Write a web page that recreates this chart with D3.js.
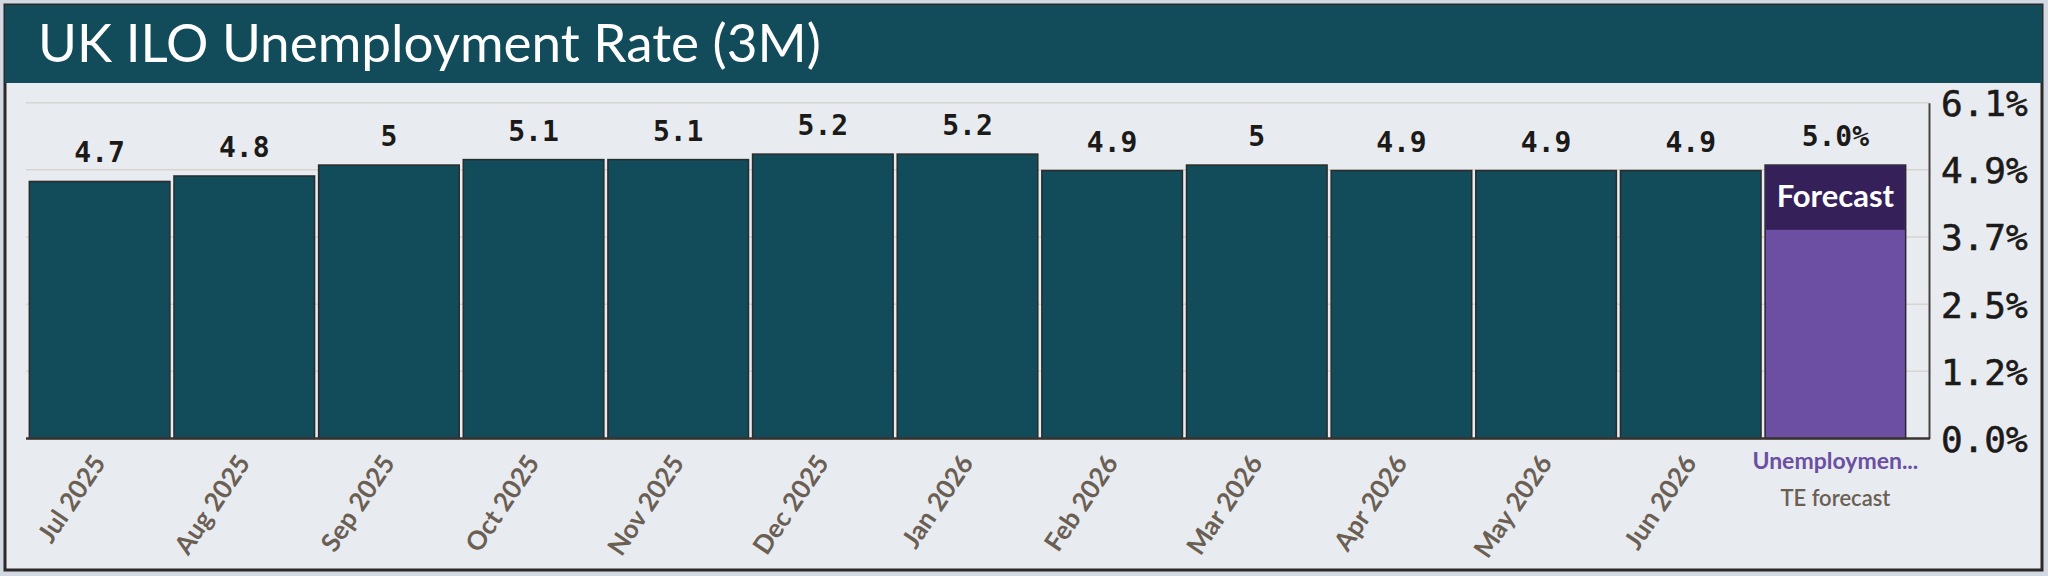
<!DOCTYPE html>
<html>
<head>
<meta charset="utf-8">
<script src="https://cdn.jsdelivr.net/npm/d3@7"></script>
<style>
  html, body { margin: 0; padding: 0; background: #d3d9e2; }
  svg { display: block; }
</style>
</head>
<body>
<div id="chart"></div>
<script>
const months = ["Jul 2025", "Aug 2025", "Sep 2025", "Oct 2025", "Nov 2025", "Dec 2025",
    "Jan 2026", "Feb 2026", "Mar 2026", "Apr 2026", "May 2026", "Jun 2026"];
const values = [4.7, 4.8, 5, 5.1, 5.1, 5.2, 5.2, 4.9, 5, 4.9, 4.9, 4.9];
const forecastName = "Unemploymen...";
const forecastSub = "TE forecast";
const forecastValue = 5.0;
const tickLabels = ["0.0%", "1.2%", "2.5%", "3.7%", "4.9%", "6.1%"];
const yMax = 6.14;

const width = 2048, height = 576;
const teal = "#124b5a", purple = "#6c4fa3", purpleDark = "#36205a";
const mono = "'DejaVu Sans Mono', monospace";
const sans = "Lato, 'Open Sans', sans-serif";

const svg = d3.select("#chart").append("svg")
    .attr("width", width).attr("height", height);

// frame + title bar
svg.append("rect").attr("x", 5).attr("y", 5).attr("width", 2037).attr("height", 565)
    .attr("fill", "#e8ecf1").attr("stroke", "#2d2926").attr("stroke-width", 3);
svg.append("rect").attr("x", 5).attr("y", 5).attr("width", 2037).attr("height", 78)
    .attr("fill", teal);
svg.append("text").attr("x", 38).attr("y", 62)
    .attr("fill", "#fff").attr("font-family", sans).attr("font-size", 53)
    .text("UK ILO Unemployment Rate (3M)");

const cats = months.concat([forecastName]);
const x = d3.scaleBand().domain(cats).range([27.3, 1907.7])
    .paddingInner(0.028).paddingOuter(0.014);
const y = d3.scaleLinear().domain([0, yMax]).range([438.5, 102.7]);
const tickValues = tickLabels.map((t, i) => yMax * i / (tickLabels.length - 1));

// grid
svg.append("g").selectAll("line").data(tickValues.slice(1)).join("line")
    .attr("x1", 26).attr("x2", 1929)
    .attr("y1", d => y(d)).attr("y2", d => y(d))
    .attr("stroke", "#d9d4cc").attr("stroke-width", 1.5);

// right axis
const yAxis = d3.axisRight(y).tickValues(tickValues)
    .tickFormat((d, i) => tickLabels[i]).tickSize(0).tickPadding(12);
const ga = svg.append("g").attr("transform", "translate(1929,0)").call(yAxis);
ga.select(".domain").attr("stroke", "#4a4440").attr("stroke-width", 2);
ga.selectAll("text").attr("font-family", mono).attr("font-size", 36)
    .attr("fill", "#1c1a18").attr("dy", "0.36em")
    .attr("stroke", "#1c1a18").attr("stroke-width", 0.6);

// history bars
svg.append("g").selectAll("rect").data(values).join("rect")
    .attr("x", (d, i) => x(months[i]))
    .attr("y", d => y(d))
    .attr("width", x.bandwidth())
    .attr("height", d => y(0) - y(d))
    .attr("fill", teal).attr("stroke", "#2b2b2b").attr("stroke-width", 1.5);

svg.append("g").selectAll("text").data(values).join("text")
    .attr("x", (d, i) => x(months[i]) + x.bandwidth() / 2)
    .attr("y", d => y(d) - 19)
    .attr("text-anchor", "middle")
    .attr("font-family", mono).attr("font-size", 28).attr("font-weight", 700)
    .attr("fill", "#1c1a18")
    .text(d => String(d));

// forecast bar
const fx = x(forecastName), fw = x.bandwidth();
svg.append("rect").attr("x", fx).attr("y", y(forecastValue))
    .attr("width", fw).attr("height", y(0) - y(forecastValue))
    .attr("fill", purple).attr("stroke", "#2b2630").attr("stroke-width", 1.5);
svg.append("rect").attr("x", fx + 0.75).attr("y", y(forecastValue) + 0.75)
    .attr("width", fw - 1.5).attr("height", 64)
    .attr("fill", purpleDark);
svg.append("text").attr("x", fx + fw / 2).attr("y", y(forecastValue) + 42)
    .attr("text-anchor", "middle").attr("fill", "#fff")
    .attr("font-family", sans).attr("font-size", 31).attr("font-weight", 700)
    .text("Forecast");
svg.append("text").attr("x", fx + fw / 2).attr("y", y(forecastValue) - 19)
    .attr("text-anchor", "middle")
    .attr("font-family", mono).attr("font-size", 28).attr("font-weight", 700)
    .attr("fill", "#1c1a18")
    .text(forecastValue.toFixed(1) + "%");

// baseline
svg.append("line").attr("x1", 26).attr("x2", 1930)
    .attr("y1", y(0)).attr("y2", y(0))
    .attr("stroke", "#3a3430").attr("stroke-width", 2.5);

// x labels
svg.append("g").selectAll("text").data(months).join("text")
    .attr("transform", d => `translate(${x(d) + x.bandwidth() / 2 + 7},463) rotate(-56)`)
    .attr("text-anchor", "end")
    .attr("font-family", sans).attr("font-size", 26).attr("font-weight", 700)
    .attr("fill", "#6b5f54")
    .text(d => d);

svg.append("text").attr("x", fx + fw / 2).attr("y", 469)
    .attr("text-anchor", "middle").attr("fill", purple)
    .attr("font-family", sans).attr("font-size", 23).attr("font-weight", 700)
    .text(forecastName);
svg.append("text").attr("x", fx + fw / 2).attr("y", 506)
    .attr("text-anchor", "middle").attr("fill", "#6b5f54")
    .attr("font-family", sans).attr("font-size", 22).attr("font-weight", 600)
    .text(forecastSub);
</script>
</body>
</html>
